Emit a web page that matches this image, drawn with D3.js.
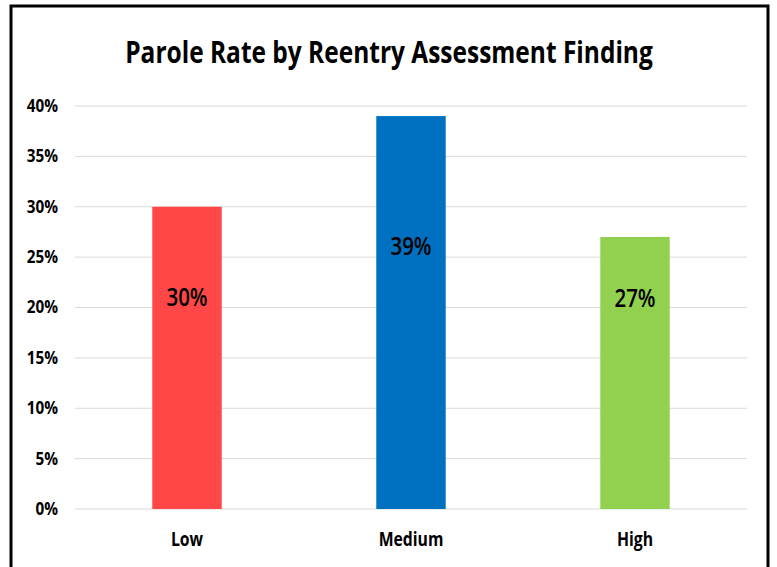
<!DOCTYPE html>
<html>
<head>
<meta charset="utf-8">
<script src="https://cdn.jsdelivr.net/npm/d3@7"></script>
<style>
  body { margin: 0; background: #fff; }
  text { font-family: "Open Sans", "Noto Sans", sans-serif; fill: #000; }
</style>
</head>
<body>
<div id="chart"></div>
<script>
var categories = ["Low", "Medium", "High"];
var rates = [0.30, 0.39, 0.27];
var barColors = ["#ff4747", "#0070c0", "#92d050"];
var yTicks = [0, 0.05, 0.10, 0.15, 0.20, 0.25, 0.30, 0.35, 0.40];
// where the data label sits, as a share of the bar height
var labelAt = [0.70, 0.67, 0.775];

var width = 777, height = 567;
var margin = {top: 106, right: 30, bottom: 58, left: 75};
var fmt = d3.format(".0%");

var svg = d3.select("#chart").append("svg")
  .attr("width", width).attr("height", height);

// frame
svg.append("rect")
  .attr("x", 11).attr("y", 6)
  .attr("width", 757).attr("height", 580)
  .attr("fill", "none").attr("stroke", "#000").attr("stroke-width", 3);

// condensed look, like the original's narrow font
svg.append("text")
  .attr("transform", "translate(389,63) scale(0.79,1)")
  .attr("text-anchor", "middle")
  .style("font-size", "31px").style("font-weight", "bold")
  .text("Parole Rate by Reentry Assessment Finding");

var x = d3.scaleBand().domain(categories)
  .range([margin.left, width - margin.right])
  .paddingInner(0.69).paddingOuter(0.345);

var y = d3.scaleLinear().domain([0, 0.40])
  .range([height - margin.bottom, margin.top]);

// gridlines
svg.append("g").selectAll("line").data(yTicks).join("line")
  .attr("x1", margin.left).attr("x2", width - margin.right)
  .attr("y1", function(d){ return y(d); }).attr("y2", function(d){ return y(d); })
  .attr("stroke", "#d9d9d9").attr("stroke-width", 1);

var yAxis = svg.append("g")
  .attr("transform", "translate(" + margin.left + ",0)")
  .call(d3.axisLeft(y).tickValues(yTicks).tickFormat(fmt).tickSize(0).tickPadding(17));
yAxis.select(".domain").remove();
yAxis.selectAll("text")
  .style("font-size", "17px").style("font-weight", "bold")
  .style("font-family", "'Open Sans', sans-serif");
yAxis.selectAll(".tick text").attr("x", null)
  .attr("transform", "translate(-17,0) scale(0.9,1)");

svg.append("g").selectAll("rect").data(rates).join("rect")
  .attr("x", function(d, i){ return x(categories[i]); })
  .attr("y", function(d){ return y(d); })
  .attr("width", x.bandwidth())
  .attr("height", function(d){ return y(0) - y(d); })
  .attr("fill", function(d, i){ return barColors[i]; });

svg.append("g").selectAll("text").data(rates).join("text")
  .attr("transform", function(d, i){
    var cx = x(categories[i]) + x.bandwidth() / 2;
    return "translate(" + cx + "," + (y(d * labelAt[i]) + 9) + ") scale(0.82,1)";
  })
  .attr("text-anchor", "middle")
  .style("font-size", "25px").style("font-weight", "600")
  .text(function(d){ return fmt(d); });

var xAxis = svg.append("g")
  .attr("transform", "translate(0," + y(0) + ")")
  .call(d3.axisBottom(x).tickSize(0).tickPadding(24));
xAxis.select(".domain").remove();
xAxis.selectAll("text")
  .attr("transform", "scale(0.83,1)")
  .style("font-size", "19px").style("font-weight", "bold")
  .style("font-family", "'Open Sans', sans-serif");
</script>
</body>
</html>
